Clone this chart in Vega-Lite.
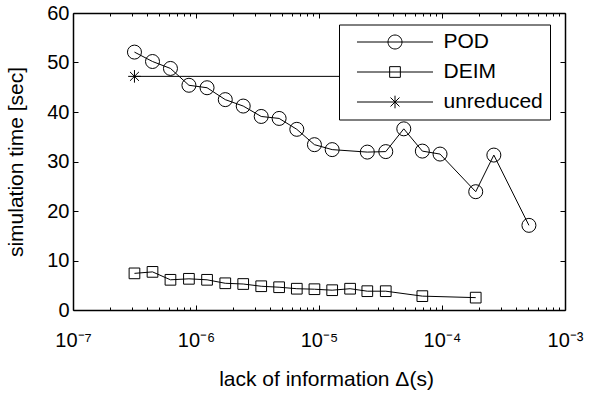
{
  "$schema": "https://vega.github.io/schema/vega-lite/v6.json",
  "width": 492,
  "height": 297,
  "autosize": "none",
  "padding": {"left": 73, "top": 13, "right": 26, "bottom": 83},
  "background": "white",
  "config": {
    "view": {"stroke": null},
    "font": "Liberation Sans",
    "axis": {
      "grid": false,
      "domainColor": "black",
      "domainWidth": 1.5,
      "tickColor": "black",
      "tickWidth": 1,
      "labelColor": "black",
      "labelFont": "Liberation Sans",
      "labelFontSize": 20,
      "titleColor": "black",
      "titleFont": "Liberation Sans",
      "titleFontSize": 21,
      "titleFontWeight": "normal",
      "labelFlush": false,
      "labelOverlap": false
    }
  },
  "data": {
    "values": [
      {"series": "POD", "delta": 3.16e-7, "time": 52.1},
      {"series": "POD", "delta": 4.43e-7, "time": 50.2},
      {"series": "POD", "delta": 6.2e-7, "time": 48.8},
      {"series": "POD", "delta": 8.76e-7, "time": 45.4},
      {"series": "POD", "delta": 1.23e-6, "time": 44.9},
      {"series": "POD", "delta": 1.73e-6, "time": 42.5},
      {"series": "POD", "delta": 2.42e-6, "time": 41.2},
      {"series": "POD", "delta": 3.39e-6, "time": 39.1},
      {"series": "POD", "delta": 4.74e-6, "time": 38.7},
      {"series": "POD", "delta": 6.6e-6, "time": 36.5},
      {"series": "POD", "delta": 9.18e-6, "time": 33.4},
      {"series": "POD", "delta": 1.28e-5, "time": 32.4},
      {"series": "POD", "delta": 2.47e-5, "time": 31.9},
      {"series": "POD", "delta": 3.49e-5, "time": 32.0},
      {"series": "POD", "delta": 4.89e-5, "time": 36.6},
      {"series": "POD", "delta": 6.92e-5, "time": 32.1},
      {"series": "POD", "delta": 9.64e-5, "time": 31.5},
      {"series": "POD", "delta": 1.88e-4, "time": 23.9},
      {"series": "POD", "delta": 2.64e-4, "time": 31.3},
      {"series": "POD", "delta": 5.09e-4, "time": 17.1},
      {"series": "DEIM", "delta": 3.16e-7, "time": 7.4},
      {"series": "DEIM", "delta": 4.43e-7, "time": 7.7},
      {"series": "DEIM", "delta": 6.2e-7, "time": 6.1},
      {"series": "DEIM", "delta": 8.76e-7, "time": 6.3},
      {"series": "DEIM", "delta": 1.23e-6, "time": 6.1},
      {"series": "DEIM", "delta": 1.73e-6, "time": 5.4},
      {"series": "DEIM", "delta": 2.42e-6, "time": 5.25},
      {"series": "DEIM", "delta": 3.39e-6, "time": 4.8},
      {"series": "DEIM", "delta": 4.74e-6, "time": 4.6},
      {"series": "DEIM", "delta": 6.6e-6, "time": 4.3},
      {"series": "DEIM", "delta": 9.18e-6, "time": 4.2},
      {"series": "DEIM", "delta": 1.28e-5, "time": 4.0},
      {"series": "DEIM", "delta": 1.79e-5, "time": 4.3},
      {"series": "DEIM", "delta": 2.47e-5, "time": 3.8},
      {"series": "DEIM", "delta": 3.49e-5, "time": 3.8},
      {"series": "DEIM", "delta": 6.92e-5, "time": 2.8},
      {"series": "DEIM", "delta": 1.88e-4, "time": 2.5},
      {"series": "unreduced", "delta": 3.16e-7, "time": 47.2},
      {"series": "unreduced", "delta": 1.88e-4, "time": 47.2}
    ]
  },
  "layer": [
    {
      "mark": {"type": "line", "color": "black", "strokeWidth": 1},
      "encoding": {
        "x": {
          "field": "delta",
          "type": "quantitative",
          "scale": {"type": "log", "domain": [1e-7, 1e-3], "nice": false},
          "axis": {
            "orient": "bottom",
            "title": "lack of information Δ(s)",
            "titlePadding": 16,
            "titleX": 253,
            "values": [1e-7, 2e-7, 3e-7, 4e-7, 5e-7, 6e-7, 7e-7, 8e-7, 9e-7,
                       1e-6, 2e-6, 3e-6, 4e-6, 5e-6, 6e-6, 7e-6, 8e-6, 9e-6,
                       1e-5, 2e-5, 3e-5, 4e-5, 5e-5, 6e-5, 7e-5, 8e-5, 9e-5,
                       1e-4, 2e-4, 3e-4, 4e-4, 5e-4, 6e-4, 7e-4, 8e-4, 9e-4, 1e-3],
            "labelExpr": "abs(log(datum.value)/LN10 - round(log(datum.value)/LN10)) < 0.001 ? '10⁻' + substring('⁰¹²³⁴⁵⁶⁷⁸⁹', -round(log(datum.value)/LN10), -round(log(datum.value)/LN10) + 1) : ''",
            "labelPadding": 25,
            "tickSize": {"condition": {"test": "abs(log(datum.value)/LN10 - round(log(datum.value)/LN10)) < 0.001", "value": -5}, "value": -3}
          }
        },
        "y": {
          "field": "time",
          "type": "quantitative",
          "scale": {"domain": [0, 60], "nice": false},
          "axis": {
            "orient": "left",
            "title": "simulation time [sec]",
            "values": [0, 10, 20, 30, 40, 50, 60],
            "tickSize": -5,
            "labelPadding": 9,
            "titlePadding": 20
          }
        },
        "detail": {"field": "series"}
      }
    },
    {
      "mark": {"type": "point", "filled": false, "color": "black", "strokeWidth": 1, "size": 196, "opacity": 1},
      "encoding": {
        "x": {
          "field": "delta",
          "type": "quantitative",
          "axis": {
            "orient": "top",
            "title": null,
            "labels": false,
            "values": [1e-7, 2e-7, 3e-7, 4e-7, 5e-7, 6e-7, 7e-7, 8e-7, 9e-7,
                       1e-6, 2e-6, 3e-6, 4e-6, 5e-6, 6e-6, 7e-6, 8e-6, 9e-6,
                       1e-5, 2e-5, 3e-5, 4e-5, 5e-5, 6e-5, 7e-5, 8e-5, 9e-5,
                       1e-4, 2e-4, 3e-4, 4e-4, 5e-4, 6e-4, 7e-4, 8e-4, 9e-4, 1e-3],
            "tickSize": {"condition": {"test": "abs(log(datum.value)/LN10 - round(log(datum.value)/LN10)) < 0.001", "value": -5}, "value": -3}
          }
        },
        "y": {
          "field": "time",
          "type": "quantitative",
          "axis": {
            "orient": "right",
            "title": null,
            "labels": false,
            "values": [0, 10, 20, 30, 40, 50, 60],
            "tickSize": -5
          }
        },
        "shape": {
          "field": "series",
          "type": "nominal",
          "scale": {
            "domain": ["POD", "DEIM", "unreduced"],
            "range": [
              "circle",
              "M-0.764,-0.764H0.764V0.764H-0.764Z",
              "M-0.9,0H0.9M0,-0.9V0.9M-0.64,-0.64L0.64,0.64M-0.64,0.64L0.64,-0.64"
            ]
          },
          "legend": null
        }
      }
    },
    {
      "transform": [{"filter": "false"}],
      "mark": {"type": "point", "filled": false, "color": "black", "strokeWidth": 1, "size": 196, "opacity": 1},
      "encoding": {
        "shape": {
          "field": "series",
          "type": "nominal",
          "scale": {
            "domain": ["POD", "DEIM", "unreduced"],
            "range": [
              "M-5.43,0H5.43M-1,0A1,1 0 1,1 1,0A1,1 0 1,1 -1,0",
              "M-5.43,0H5.43M-0.764,-0.764H0.764V0.764H-0.764Z",
              "M-5.43,0H5.43M0,-0.9V0.9M-0.64,-0.64L0.64,0.64M-0.64,0.64L0.64,-0.64"
            ]
          },
          "legend": {
            "title": null,
            "orient": "none",
            "legendX": 266,
            "legendY": 11.5,
            "padding": 7,
            "rowPadding": 8,
            "fillColor": "white",
            "strokeColor": "black",
            "symbolSize": 196,
            "symbolStrokeColor": "black",
            "symbolFillColor": "transparent",
            "symbolStrokeWidth": 1,
            "symbolOpacity": 1,
            "symbolOffset": 38.5,
            "labelOffset": 38,
            "labelFont": "Liberation Sans",
            "labelFontSize": 21,
            "labelColor": "black",
            "labelLimit": 300,
            "encode": {
              "legend": {"update": {"strokeWidth": {"value": 1.5}}}
            }
          }
        }
      }
    }
  ],
  "resolve": {
    "axis": {"x": "independent", "y": "independent"},
    "scale": {"shape": "independent"}
  }
}
